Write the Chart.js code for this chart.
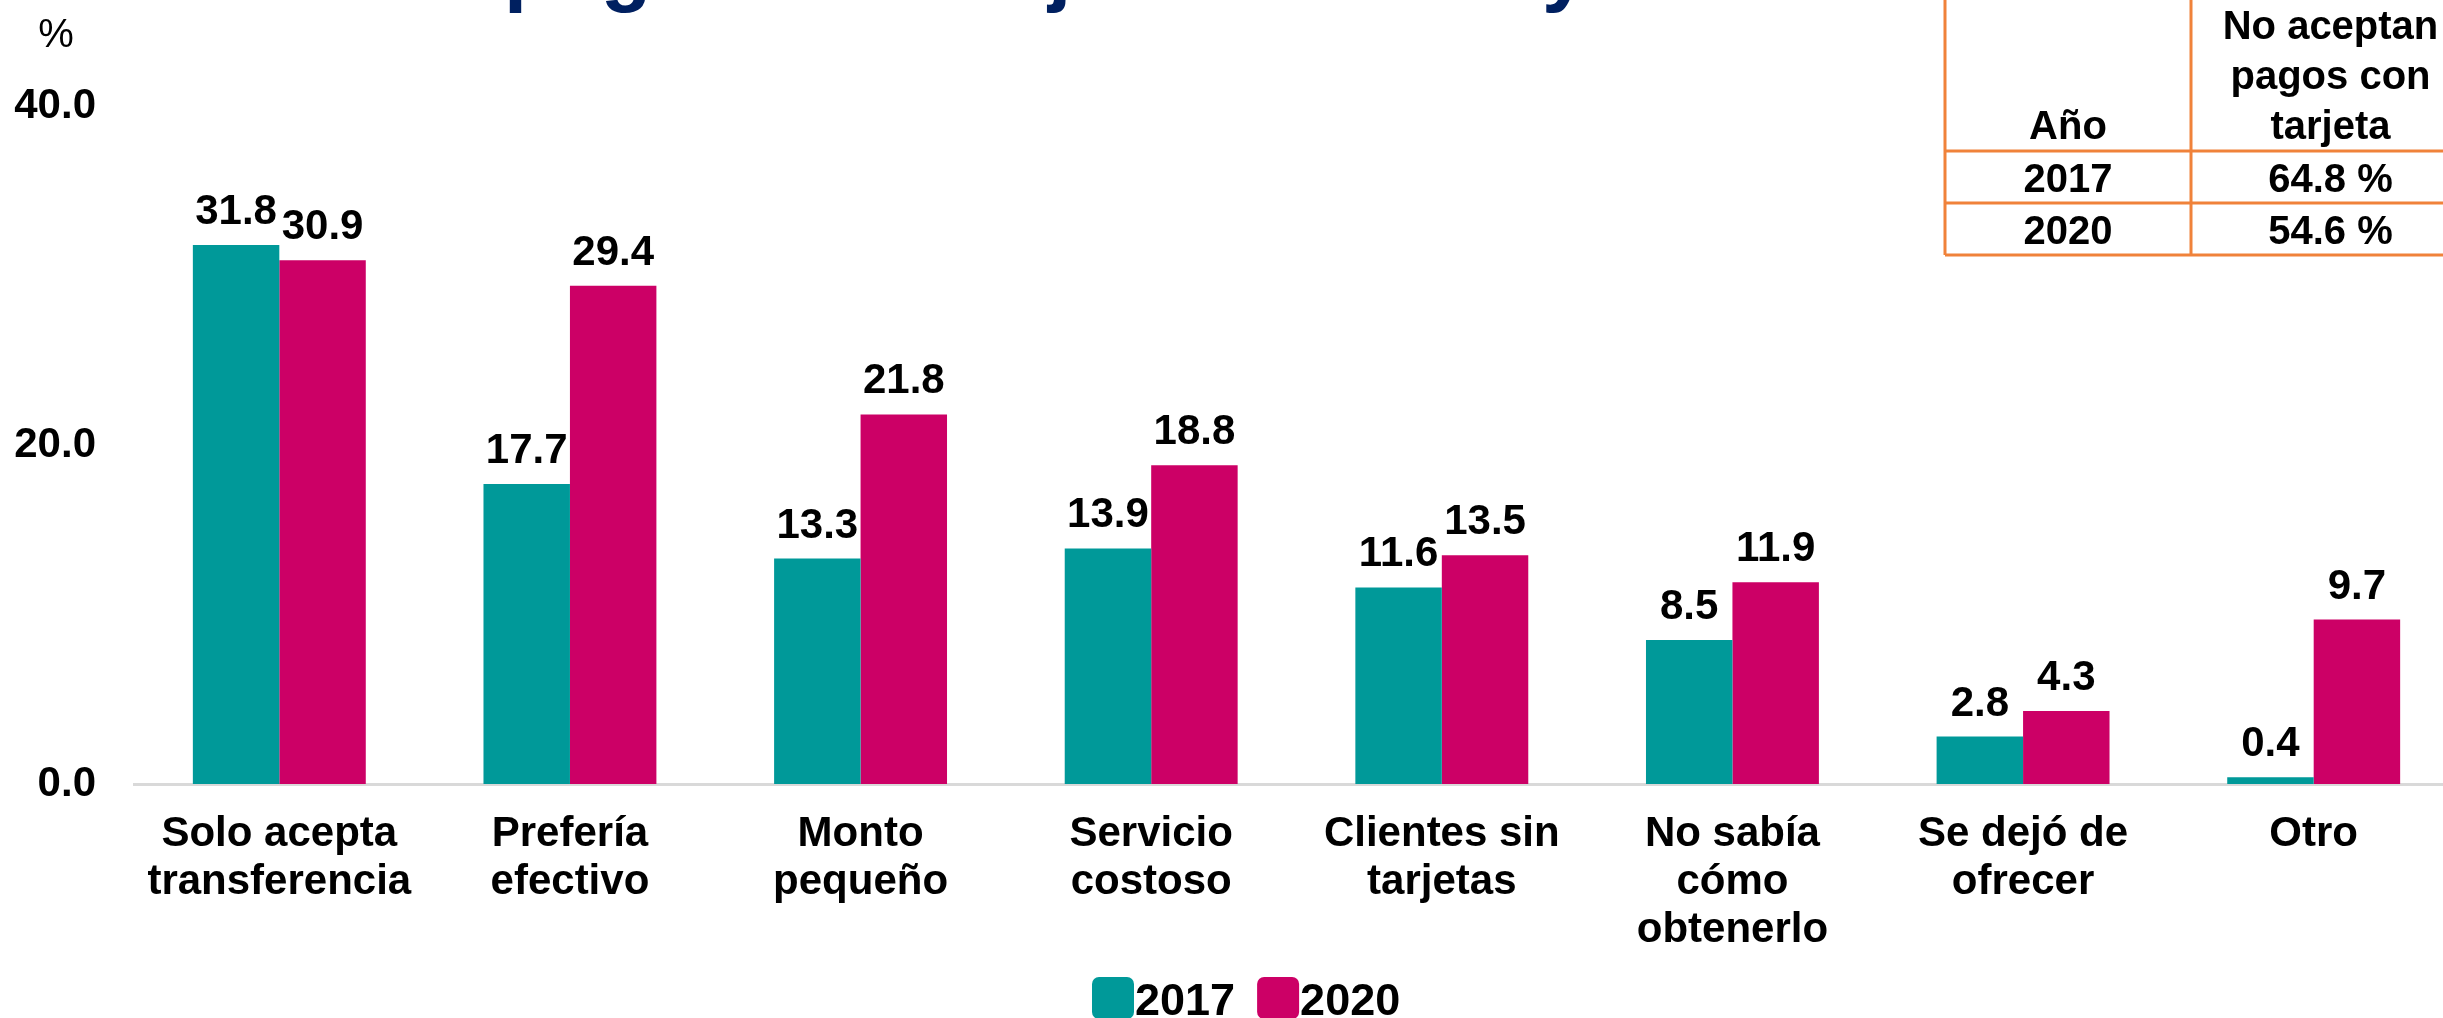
<!DOCTYPE html>
<html>
<head>
<meta charset="utf-8">
<script src="https://cdn.jsdelivr.net/npm/chart.js@4.4.1/dist/chart.umd.min.js"></script>
<style>
    html, body { margin: 0; padding: 0; background: #fff; overflow: hidden; }
    #wrap { position: relative; width: 2460px; height: 1018px; }
</style>
</head>
<body>
<div id="wrap"><canvas id="chart1"></canvas></div>
<script>
// data
var categories = [
    ["Solo acepta", "transferencia"],
    ["Prefería", "efectivo"],
    ["Monto", "pequeño"],
    ["Servicio", "costoso"],
    ["Clientes sin", "tarjetas"],
    ["No sabía", "cómo", "obtenerlo"],
    ["Se dejó de", "ofrecer"],
    ["Otro"]
];
var seriesNames = ["2017", "2020"];
var values2017 = [31.8, 17.7, 13.3, 13.9, 11.6, 8.5, 2.8, 0.4];
var values2020 = [30.9, 29.4, 21.8, 18.8, 13.5, 11.9, 4.3, 9.7];
var yTicks = [0, 20, 40];
var tableHeader = ["Año", ["No aceptan", "pagos con", "tarjeta"]];
var tableYears = ["2017", "2020"];
var tableShares = [64.8, 54.6];
var titleText = "pagos con tarjeta en 2017 y 2020";

var FONT = '"Liberation Sans", Arial, sans-serif';
var TEAL = "#009999";
var MAGENTA = "#CC0066";
var ORANGE = "#F0823A";

// labels, title fragment, table and legend drawn on top of the chart
var extrasPlugin = {
    id: "extras",
    afterDraw: function (chart) {
        var ctx = chart.ctx;
        ctx.save();

        // value labels over each bar
        ctx.fillStyle = "#000";
        ctx.font = "bold 42px " + FONT;
        ctx.textAlign = "center";
        ctx.textBaseline = "alphabetic";
        chart.data.datasets.forEach(function (ds, i) {
            chart.getDatasetMeta(i).data.forEach(function (bar, j) {
                ctx.fillText(ds.data[j].toFixed(1), bar.x, bar.y - 21);
            });
        });

        // unit
        ctx.font = "40px " + FONT;
        ctx.fillText("%", 56, 47);

        // title, cut by the top edge
        ctx.fillStyle = "#002060";
        ctx.font = "bold 83px " + FONT;
        ctx.textAlign = "left";
        ctx.fillText(titleText, 504, -4);

        // table top right
        ctx.strokeStyle = ORANGE;
        ctx.lineWidth = 3;
        var tl = 1945, tm = 2191, tr = 2470;
        var rows = [151, 203, 255];
        ctx.beginPath();
        ctx.moveTo(tl, 0); ctx.lineTo(tl, rows[2]);
        ctx.moveTo(tm, 0); ctx.lineTo(tm, rows[2]);
        rows.forEach(function (ry) {
            ctx.moveTo(tl, ry); ctx.lineTo(tr, ry);
        });
        ctx.stroke();

        ctx.fillStyle = "#000";
        ctx.font = "bold 40px " + FONT;
        ctx.textAlign = "center";
        var c1 = (tl + tm) / 2, c2 = (tm + tr) / 2;
        ctx.fillText(tableHeader[0], c1, 139);
        tableHeader[1].forEach(function (line, k) {
            ctx.fillText(line, c2, 39 + k * 50);
        });
        tableYears.forEach(function (yr, k) {
            ctx.fillText(yr, c1, 192 + k * 52);
            ctx.fillText(tableShares[k].toFixed(1) + " %", c2, 192 + k * 52);
        });

        // legend
        ctx.font = "bold 45px " + FONT;
        ctx.textAlign = "left";
        var lx = 1092;
        chart.data.datasets.forEach(function (ds) {
            ctx.fillStyle = ds.backgroundColor;
            ctx.beginPath();
            ctx.roundRect(lx, 977, 42, 42, 7);
            ctx.fill();
            ctx.fillStyle = "#000";
            ctx.fillText(ds.label, lx + 43, 1015);
            lx += 43 + ctx.measureText(ds.label).width + 22;
        });

        ctx.restore();
    }
};

var ctx1 = document.getElementById("chart1").getContext("2d");
window.barChart = new Chart(ctx1, {
    type: "bar",
    data: {
        labels: categories,
        datasets: [
            {
                label: seriesNames[0],
                data: values2017,
                backgroundColor: TEAL,
                borderWidth: 0
            },
            {
                label: seriesNames[1],
                data: values2020,
                backgroundColor: MAGENTA,
                borderWidth: 0
            }
        ]
    },
    options: {
        responsive: true,
        maintainAspectRatio: false,
        devicePixelRatio: 1,
        animation: false,
        categoryPercentage: 0.595,
        barPercentage: 1.0,
        layout: {
            padding: { top: 106, right: 1, left: 0, bottom: 0 }
        },
        plugins: {
            legend: { display: false },
            title: { display: false },
            tooltip: { enabled: false }
        },
        scales: {
            x: {
                grid: { display: false, drawTicks: false },
                border: { display: true, color: "#D9D9D9", width: 3 },
                ticks: {
                    color: "#000",
                    font: { family: FONT, size: 42, weight: "bold", lineHeight: 48 / 42 },
                    padding: 26,
                    maxRotation: 0,
                    autoSkip: false
                },
                afterFit: function (scale) {
                    scale.height = 234;
                }
            },
            y: {
                min: yTicks[0],
                max: yTicks[yTicks.length - 1],
                grid: { display: false, drawTicks: false },
                border: { display: false },
                afterBuildTicks: function (scale) {
                    scale.ticks = yTicks.map(function (v) { return { value: v }; });
                },
                ticks: {
                    color: "#000",
                    font: { family: FONT, size: 42, weight: "bold" },
                    padding: 38,
                    callback: function (v) { return Number(v).toFixed(1); }
                },
                afterFit: function (scale) {
                    scale.width = 134;
                }
            }
        }
    },
    plugins: [extrasPlugin]
});
</script>
</body>
</html>
